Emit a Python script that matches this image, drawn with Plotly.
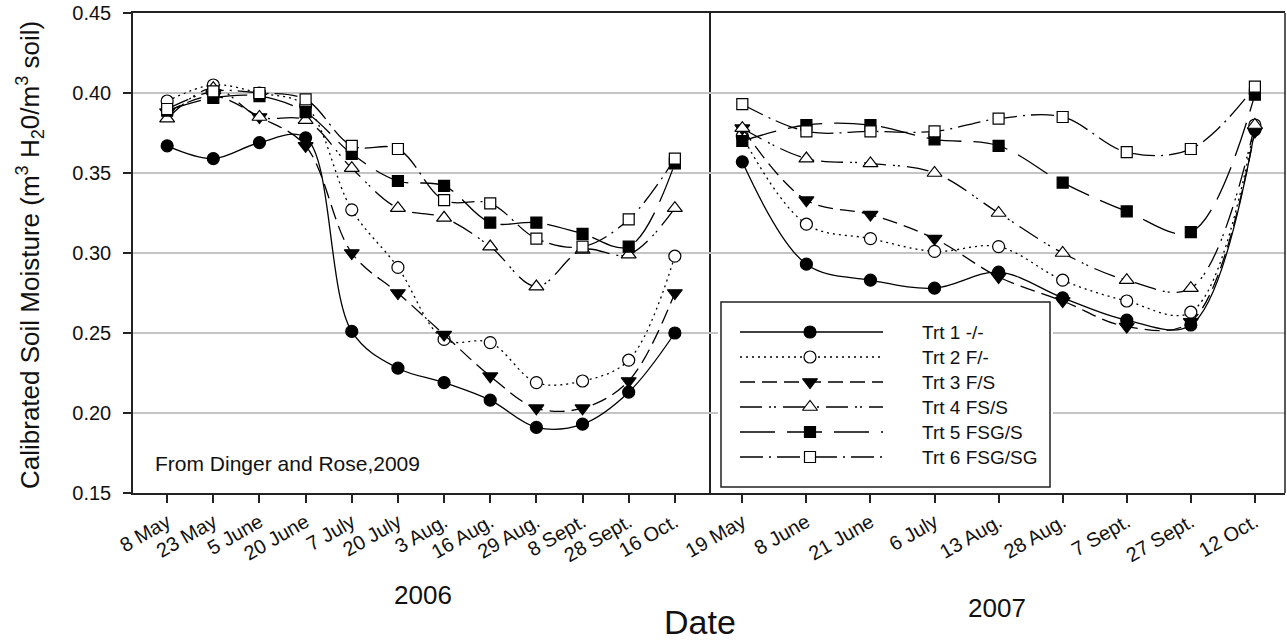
import plotly.graph_objects as go

# ---------------- data ----------------
dates_2006 = ["8 May", "23 May", "5 June", "20 June", "7 July", "20 July", "3 Aug.",
              "16 Aug.", "29 Aug.", "8 Sept.", "28 Sept.", "16 Oct."]
dates_2007 = ["19 May", "8 June", "21 June", "6 July", "13 Aug.", "28 Aug.",
              "7 Sept.", "27 Sept.", "12 Oct."]

trt_names = ["Trt 1 -/-", "Trt 2 F/-", "Trt 3 F/S", "Trt 4 FS/S", "Trt 5 FSG/S", "Trt 6 FSG/SG"]

trt1_2006 = [0.367, 0.359, 0.369, 0.372, 0.251, 0.228, 0.219, 0.208, 0.191, 0.193, 0.213, 0.250]
trt2_2006 = [0.395, 0.405, 0.400, 0.392, 0.327, 0.291, 0.246, 0.244, 0.219, 0.220, 0.233, 0.298]
trt3_2006 = [0.388, 0.398, 0.385, 0.367, 0.300, 0.275, 0.249, 0.223, 0.203, 0.203, 0.220, 0.275]
trt4_2006 = [0.384, 0.403, 0.385, 0.383, 0.353, 0.328, 0.322, 0.304, 0.279, 0.302, 0.299, 0.328]
trt5_2006 = [0.389, 0.397, 0.398, 0.388, 0.362, 0.345, 0.342, 0.319, 0.319, 0.312, 0.304, 0.356]
trt6_2006 = [0.390, 0.401, 0.400, 0.396, 0.367, 0.365, 0.333, 0.331, 0.309, 0.304, 0.321, 0.359]

trt1_2007 = [0.357, 0.293, 0.283, 0.278, 0.288, 0.272, 0.258, 0.255, 0.377]
trt2_2007 = [0.373, 0.318, 0.309, 0.301, 0.304, 0.283, 0.270, 0.263, 0.380]
trt3_2007 = [0.378, 0.333, 0.324, 0.309, 0.285, 0.270, 0.254, 0.257, 0.376]
trt4_2007 = [0.378, 0.359, 0.356, 0.350, 0.325, 0.300, 0.283, 0.278, 0.380]
trt5_2007 = [0.370, 0.380, 0.380, 0.371, 0.367, 0.344, 0.326, 0.313, 0.399]
trt6_2007 = [0.393, 0.376, 0.376, 0.376, 0.384, 0.385, 0.363, 0.365, 0.404]

y_ticks = [0.15, 0.20, 0.25, 0.30, 0.35, 0.40, 0.45]

series_2006 = [trt1_2006, trt2_2006, trt3_2006, trt4_2006, trt5_2006, trt6_2006]
series_2007 = [trt1_2007, trt2_2007, trt3_2007, trt4_2007, trt5_2007, trt6_2007]

# ---------------- styles ----------------
styles = [
    dict(dash="solid", symbol="circle", fill="black", size=12),
    dict(dash="2px,4px", symbol="circle", fill="white", size=12),
    dict(dash="15px,7px", symbol="triangle-down", fill="black", size=13),
    dict(dash="22px,7px,2px,3px,2px,7px", symbol="triangle-up", fill="white", size=13),
    dict(dash="35px,12px", symbol="square", fill="black", size=11),
    dict(dash="23px,6px,2px,6px", symbol="square", fill="white", size=11),
]
LW = 1.3
FONT = "Liberation Sans, Arial, sans-serif"
TXT = "#111"

W, H = 1287, 642
L, R, T, B = 133, 1285, 13, 493
PW, PH = R - L, B - T


def px2x(px):
    return (px - L) / PW


def px2y(py):
    return (B - py) / PH


fig = go.Figure()

for xs, xa, allser in [(dates_2006, "x", series_2006), (dates_2007, "x2", series_2007)]:
    for i, ys in enumerate(allser):
        st = styles[i]
        fig.add_trace(go.Scatter(
            x=xs, y=ys, xaxis=xa, yaxis="y", mode="lines+markers",
            line=dict(color="black", width=LW, dash=st["dash"], shape="spline", smoothing=1.0),
            marker=dict(symbol=st["symbol"], size=st["size"], color=st["fill"],
                        line=dict(color="black", width=1.2)),
            showlegend=False, hoverinfo="skip", cliponaxis=False))

# ---------------- custom legend (box-local pixel axes) ----------------
BOX_L, BOX_T, BOX_R, BOX_B = 721, 302, 1050, 487
pad = 3
row_y0, row_dy = 30, 25
line_x0, line_x1, mark_x, text_x = 19, 162, 89, 199

for i, name in enumerate(trt_names):
    st = styles[i]
    yy = row_y0 + i * row_dy
    fig.add_trace(go.Scatter(
        x=[line_x0, line_x1], y=[yy, yy], xaxis="x3", yaxis="y3", mode="lines",
        line=dict(color="black", width=LW, dash=st["dash"]),
        showlegend=False, hoverinfo="skip"))
    fig.add_trace(go.Scatter(
        x=[mark_x], y=[yy], xaxis="x3", yaxis="y3", mode="markers",
        marker=dict(symbol=st["symbol"], size=st["size"], color=st["fill"],
                    line=dict(color="black", width=1.2)),
        showlegend=False, hoverinfo="skip"))

annotations = []
for i, name in enumerate(trt_names):
    annotations.append(dict(x=text_x, y=row_y0 + i * row_dy, xref="x3", yref="y3",
                            text=name, showarrow=False, xanchor="left", yanchor="middle",
                            font=dict(size=19, color=TXT, family=FONT)))

shapes = [
    dict(type="rect", xref="x3", yref="y3", x0=0, x1=BOX_R - BOX_L, y0=0, y1=BOX_B - BOX_T,
         fillcolor="white", line=dict(color="#222", width=1.5), layer="below"),
    # right edge of the frame
    dict(type="line", xref="paper", yref="paper", x0=1, x1=1, y0=0, y1=1,
         line=dict(color="#222", width=1.5), layer="above"),
]

# ---------------- text annotations ----------------
annotations += [
    dict(x=px2x(153), y=px2y(463), xref="paper", yref="paper", text="From Dinger and Rose,2009",
         showarrow=False, xanchor="left", yanchor="middle", font=dict(size=21, color=TXT, family=FONT)),
    dict(x=px2x(423), y=px2y(595), xref="paper", yref="paper", text="2006",
         showarrow=False, xanchor="center", yanchor="middle", font=dict(size=26, color=TXT, family=FONT)),
    dict(x=px2x(997), y=px2y(608), xref="paper", yref="paper", text="2007",
         showarrow=False, xanchor="center", yanchor="middle", font=dict(size=26, color=TXT, family=FONT)),
    dict(x=px2x(700), y=px2y(622), xref="paper", yref="paper", text="Date",
         showarrow=False, xanchor="center", yanchor="middle", font=dict(size=34, color=TXT, family=FONT)),
    dict(x=px2x(30), y=px2y(255), xref="paper", yref="paper",
         text="Calibrated Soil Moisture (m<sup>3</sup> H<sub>2</sub>0/m<sup>3</sup> soil)",
         showarrow=False, textangle=-90, xanchor="center", yanchor="middle",
         font=dict(size=26, color=TXT, family=FONT)),
]

axis_common = dict(showline=True, linecolor="#222", linewidth=1.5, mirror=True,
                   ticks="outside", ticklen=8, tickwidth=1.5, tickcolor="#222",
                   tickangle=-30, tickfont=dict(size=20, color=TXT, family=FONT),
                   showgrid=False, zeroline=False, type="category")

fig.update_layout(
    width=W, height=H,
    margin=dict(l=L, r=W - R, t=T, b=H - B),
    paper_bgcolor="white", plot_bgcolor="white",
    showlegend=False,
    xaxis=dict(domain=[0, px2x(709)], anchor="y", range=[-0.74, 11.74], **axis_common),
    xaxis2=dict(domain=[px2x(709), 1], anchor="y", range=[-0.52, 8.47], **axis_common),
    yaxis=dict(domain=[0, 1], anchor="x", range=[0.15, 0.45], tickvals=y_ticks,
               tickformat=".2f", showline=True, linecolor="#222", linewidth=1.5, mirror=True,
               ticks="outside", ticklen=8, tickwidth=1.5, tickcolor="#222",
               ticklabelstandoff=8,
               tickfont=dict(size=20, color=TXT, family=FONT),
               showgrid=True, gridcolor="#c4c4c4", gridwidth=1.5, zeroline=False),
    xaxis3=dict(domain=[px2x(BOX_L - pad), px2x(BOX_R + pad)], anchor="y3",
                range=[-pad, BOX_R - BOX_L + pad], visible=False, fixedrange=True),
    yaxis3=dict(domain=[px2y(BOX_B + pad), px2y(BOX_T - pad)], anchor="x3",
                range=[BOX_B - BOX_T + pad, -pad], visible=False, fixedrange=True),
    shapes=shapes,
    annotations=annotations,
)

fig.write_html("out.html")
